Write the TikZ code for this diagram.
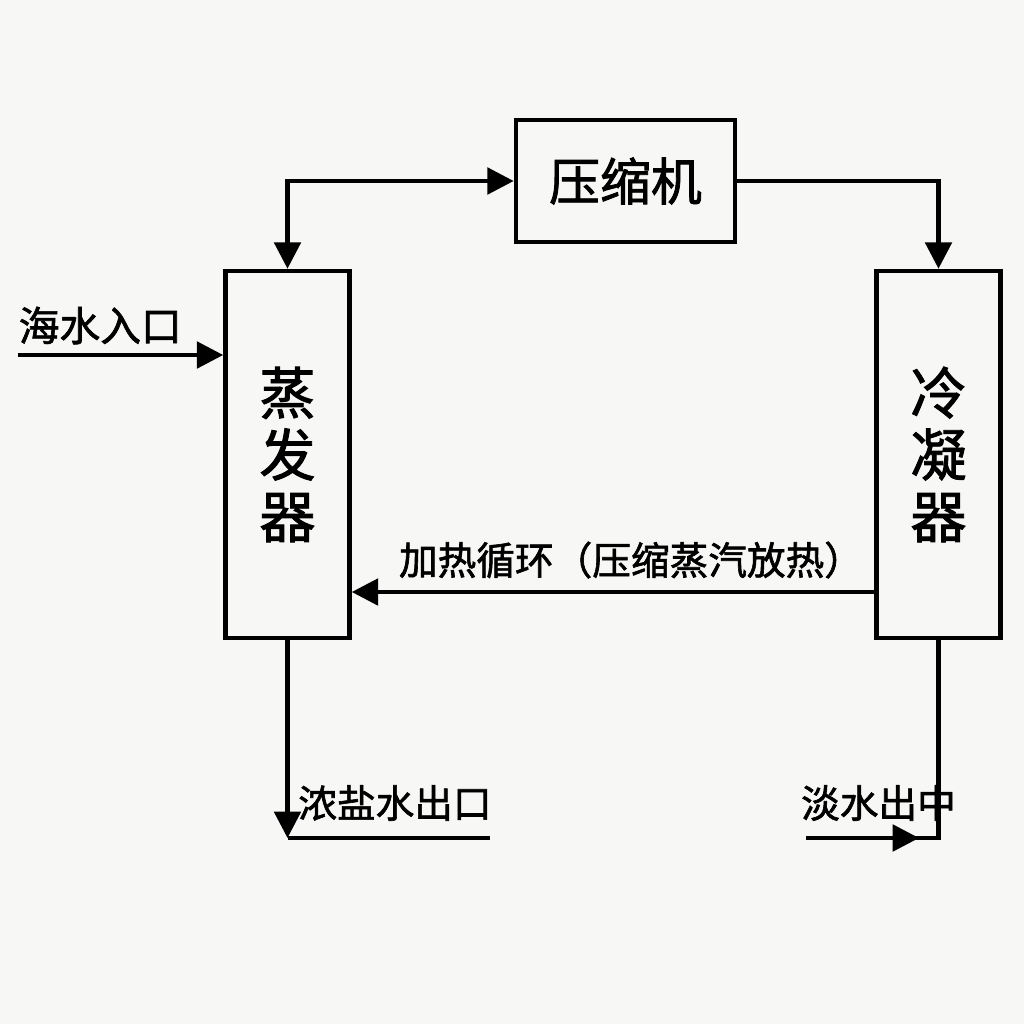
\documentclass[tikz,border=0pt]{standalone}
\usepackage{fontspec}
\setmainfont{Noto Sans CJK SC}[BoldFont={Noto Sans CJK SC}, BoldFeatures={FakeBold=1.6}]
\usetikzlibrary{positioning, arrows.meta}
\definecolor{paper}{RGB}{247,247,245}

\begin{document}
\begin{tikzpicture}[
    font=\bfseries\fontsize{11}{13}\selectfont,
    unit/.style={rectangle, draw=black, line width=1.3pt, align=center, inner sep=0pt},
    wide/.style={minimum width=2.19cm, minimum height=1.22cm, font=\bfseries\fontsize{14.5}{16}\selectfont},
    tall/.style={minimum width=1.24cm, minimum height=3.67cm, font=\bfseries\fontsize{16}{17.6}\selectfont},
    pipe/.style={line width=1.2pt},
    arrow/.style={-{Triangle[length=7.5pt, width=7.5pt]}, line width=1.2pt},
    twoway/.style={{Triangle[length=7.5pt, width=7.5pt]}-{Triangle[length=7.5pt, width=7.5pt]}, line width=1.2pt},
    flowlabel/.style={font=\bfseries\fontsize{11}{12.5}\selectfont, inner sep=0pt}
]

% --- Fondo ---
\fill[paper] (0,0) rectangle (10.24,-10.24);
\useasboundingbox (0,0) rectangle (10.24,-10.24);

% --- Equipos ---
\node[unit, wide] (comp) at (6.255,-1.81) {压缩机};
\node[unit, tall] (evap) at (2.875,-4.545) {蒸\\发\\器};
\node[unit, tall] (cond) at (9.385,-4.545) {冷\\凝\\器};

% --- Puntos auxiliares ---
\coordinate (swin) at (0.18,-3.55);
\coordinate (heat) at ([yshift=-1.375cm]cond.west);
\coordinate (brine) at (evap.south |- 0,-8.38);
\coordinate (brineend) at (4.90,-8.38);
\coordinate (fresh) at (cond.south |- 0,-8.38);
\coordinate (freshin) at (8.06,-8.38);
\coordinate (freshtip) at (9.19,-8.38);

% --- Vapor ---
\draw[twoway] (comp.west) -| (evap.north);
\draw[arrow] (comp.east) -| (cond.north);

% --- Agua de mar ---
\draw[arrow] (swin) -- (swin -| evap.west);
\node[flowlabel, anchor=south west, font=\bfseries\fontsize{11.6}{13}\selectfont] (swlabel) at (0.18,-3.45) {海水入口};

% --- Circuito de calor ---
\draw[arrow] (heat) -- (heat -| evap.east);
\node[flowlabel] (heatlabel) at (6.31,-5.60) {加热循环（压缩蒸汽放热）};

% --- Salmuera ---
\draw[arrow] (evap.south) -- (brine);
\draw[pipe] (brine) -- (brineend);
\node[flowlabel] (brinelabel) at (3.95,-8.03) {浓盐水出口};

% --- Agua dulce ---
\draw[pipe] (cond.south) |- (freshin);
\draw[arrow] (freshin) -- (freshtip);
\node[flowlabel] (freshlabel) at (8.785,-8.03) {淡水出中};
\end{tikzpicture}
\end{document}
